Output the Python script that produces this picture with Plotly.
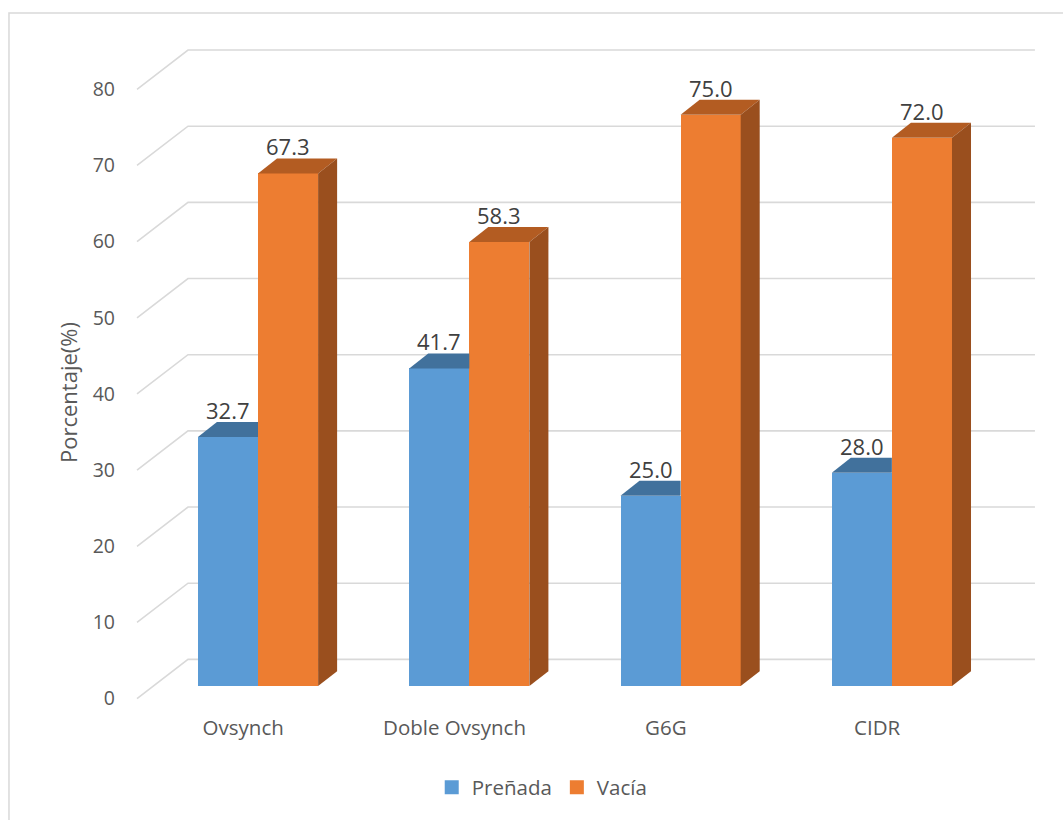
import plotly.graph_objects as go

categories = ["Ovsynch", "Doble Ovsynch", "G6G", "CIDR"]
prenada = [32.7, 41.7, 25.0, 28.0]
vacia = [67.3, 58.3, 75.0, 72.0]
y_ticks = [0, 10, 20, 30, 40, 50, 60, 70, 80]
series_names = ["Preñada", "Vacía"]

FRONT = ["#5b9bd5", "#ed7d31"]
TOP = ["#41719c", "#b35c22"]
SIDE = ["#41719c", "#9a4f1e"]
TXT = "#595959"
FONT = "Open Sans"

W = 0.2844          # bar width (x units)
DX = 0.090          # depth offset in x units
DV = 1.96           # depth offset in value units
GRID_FRONT = -1.65  # gridline front offset
GRID_BACK = 3.5     # back wall offset

fig = go.Figure()

xs = list(range(len(categories)))
series = [prenada, vacia]
offsets = [-W / 2, W / 2]

for s, (vals, off) in enumerate(zip(series, offsets)):
    fig.add_trace(go.Bar(
        x=[i + off for i in xs], y=vals, width=W,
        name=series_names[s], marker=dict(color=FRONT[s], line=dict(width=0)),
        hoverinfo="skip", showlegend=False,
    ))

# 3D top/side faces
for i in xs:
    for s, (vals, off) in enumerate(zip(series, offsets)):
        v = vals[i]
        x0 = i + off - W / 2
        x1 = i + off + W / 2
        if s == 0:
            px = [x0, x0 + DX, x1, x1, x0]
            py = [v, v + DV, v + DV, v, v]
        else:
            px = [x0, x0 + DX, x1 + DX, x1, x0]
            py = [v, v + DV, v + DV, v, v]
        fig.add_trace(go.Scatter(x=px, y=py, mode="lines", fill="toself",
                                 fillcolor=TOP[s], line=dict(width=0, color=TOP[s]),
                                 hoverinfo="skip", showlegend=False))
        if s == 1:
            sx = [x1, x1, x1 + DX, x1 + DX, x1]
            sy = [0, v, v + DV, DV, 0]
            fig.add_trace(go.Scatter(x=sx, y=sy, mode="lines", fill="toself",
                                     fillcolor=SIDE[s], line=dict(width=0, color=SIDE[s]),
                                     hoverinfo="skip", showlegend=False))
        fig.add_annotation(x=i + off, y=v, text=f"{v:.1f}", showarrow=False,
                           yanchor="middle", yshift=27,
                           font=dict(family=FONT, size=22, color="#404040"))

# legend entries (square markers)
for s in range(2):
    fig.add_trace(go.Scatter(x=[None], y=[None], mode="markers", name=series_names[s],
                             marker=dict(symbol="square", size=14, color=FRONT[s]),
                             showlegend=True))

# perspective gridlines
gx_front, gx_back, gx_end = -0.5726, -0.3313, 3.677
for t in y_ticks:
    fig.add_shape(type="path", xref="x", yref="y", layer="below",
                  path=f"M {gx_front},{t + GRID_FRONT} L {gx_back},{t + GRID_BACK} L {gx_end},{t + GRID_BACK}",
                  line=dict(color="#d9d9d9", width=1.6))

# chart border
fig.add_shape(type="rect", xref="paper", yref="paper", x0=-0.133, y0=-0.4, x1=1.2, y1=1.0403,
              line=dict(color="#d9d9d9", width=1.5), layer="below")

fig.add_annotation(xref="paper", yref="paper", x=-0.0681, y=0.4716, text="Porcentaje(%)",
                   textangle=-90, showarrow=False, xanchor="center", yanchor="middle",
                   font=dict(family=FONT, size=22, color=TXT))

fig.update_layout(
    width=1063, height=820,
    margin=dict(l=130, r=23, t=40, b=110),
    paper_bgcolor="white", plot_bgcolor="white",
    barmode="overlay", bargap=0,
    showlegend=True,
    legend=dict(orientation="h", x=0.453, y=-0.119, xanchor="center", yanchor="middle",
                font=dict(family=FONT, size=20.5, color=TXT), itemwidth=30,
                tracegroupgap=0),
    xaxis=dict(range=[-0.6058, 3.7009], showgrid=False, zeroline=False, showline=False,
               tickvals=[i - 0.07 for i in xs], ticktext=categories,
               tickfont=dict(family=FONT, size=20.5, color=TXT), ticks="",
               ticklabelstandoff=5, fixedrange=True),
    yaxis=dict(range=[-2.88, 84.82], showgrid=False, zeroline=False, showline=False,
               tickvals=[t + GRID_FRONT for t in y_ticks], ticktext=[str(t) for t in y_ticks],
               tickfont=dict(family=FONT, size=19.5, color=TXT), ticks="",
               ticklabelstandoff=14, fixedrange=True),
)

fig.write_html("out.html")
